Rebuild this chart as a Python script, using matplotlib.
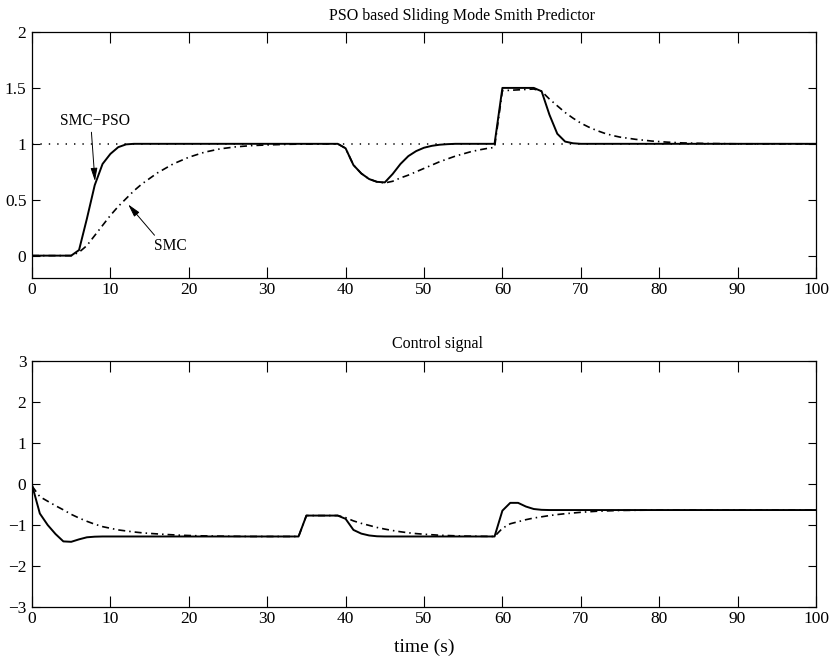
import matplotlib
matplotlib.use("Agg")
import matplotlib.pyplot as plt
from matplotlib.ticker import FuncFormatter

plt.rcParams['font.family'] = ['Liberation Serif', 'DejaVu Serif']
plt.rcParams['axes.unicode_minus'] = True

# ---- process output (upper panel) ----
t_ref = [0, 100]
y_ref = [1.0, 1.0]

t_pso = [0, 5, 6, 7, 8, 9, 10, 11, 12, 13,
         39, 40, 41, 42, 43, 44, 45, 46, 47, 48, 49, 50, 51, 52, 53, 54,
         59, 60, 64, 65, 66, 67, 68, 69, 70, 100]
y_pso = [0, 0, 0.05, 0.33, 0.63, 0.82, 0.91, 0.97, 0.995, 1.0,
         1.0, 0.96, 0.81, 0.735, 0.685, 0.66, 0.655, 0.73, 0.82, 0.89, 0.935, 0.965, 0.982, 0.992, 0.997, 1.0,
         1.0, 1.5, 1.5, 1.47, 1.26, 1.09, 1.02, 1.005, 1.0, 1.0]

t_smc = [0, 5, 6, 7, 8, 9, 10, 11, 12, 13, 14, 15, 16, 17, 18, 19, 20, 22, 24, 26, 28, 30, 33, 36, 39,
         40, 41, 42, 43, 44, 45, 46, 47, 48, 49, 50, 51, 52, 53, 54, 55, 56, 57, 58, 59,
         60, 64, 65, 66, 67, 68, 69, 70, 71, 72, 73, 74, 75, 77, 79, 81, 83, 86, 90, 100]
y_smc = [0, 0, 0.03, 0.09, 0.18, 0.27, 0.36, 0.44, 0.51, 0.58, 0.64, 0.69, 0.74, 0.78, 0.82, 0.85, 0.88,
         0.925, 0.955, 0.973, 0.984, 0.99, 0.996, 0.999, 1.0,
         0.96, 0.81, 0.735, 0.685, 0.66, 0.65, 0.665, 0.695, 0.72, 0.75, 0.78, 0.81, 0.84, 0.865, 0.89,
         0.91, 0.93, 0.945, 0.958, 0.968,
         1.475, 1.49, 1.47, 1.40, 1.34, 1.28, 1.23, 1.185, 1.15, 1.12, 1.095, 1.075, 1.06, 1.04, 1.025,
         1.015, 1.008, 1.003, 1.0, 1.0]

# ---- control signal (lower panel) ----
t_u_pso = [0, 1, 2, 3, 4, 5, 6, 7, 8, 9, 10,
           34, 35, 39, 40, 41, 42, 43, 44, 45,
           59, 60, 61, 62, 63, 64, 65, 66, 100]
u_pso = [-0.02, -0.72, -1.0, -1.22, -1.40, -1.41, -1.35, -1.30, -1.285, -1.28, -1.28,
         -1.28, -0.77, -0.77, -0.85, -1.12, -1.21, -1.255, -1.275, -1.28,
         -1.28, -0.65, -0.46, -0.46, -0.55, -0.61, -0.63, -0.635, -0.635]

t_u_smc = [0, 1, 2, 3, 4, 5, 6, 7, 8, 9, 10, 11, 12, 13, 14, 15, 17, 19, 21, 24, 28,
           34, 35, 39, 40, 41, 42, 43, 44, 45, 46, 47, 48, 49, 50, 52, 55,
           59, 60, 61, 62, 63, 64, 65, 66, 67, 68, 70, 72, 75, 80, 100]
u_smc = [-0.05, -0.31, -0.42, -0.53, -0.63, -0.74, -0.83, -0.91, -0.98, -1.04, -1.08, -1.12, -1.145,
         -1.17, -1.19, -1.205, -1.23, -1.25, -1.262, -1.272, -1.28,
         -1.28, -0.77, -0.77, -0.82, -0.90, -0.96, -1.01, -1.06, -1.10, -1.135, -1.165, -1.19, -1.21,
         -1.225, -1.25, -1.27,
         -1.28, -1.08, -0.97, -0.92, -0.87, -0.83, -0.80, -0.77, -0.745, -0.725, -0.69, -0.665, -0.645,
         -0.635, -0.635]

top_yticks = [0, 0.5, 1, 1.5, 2]
bot_yticks = [-3, -2, -1, 0, 1, 2, 3]
xticks = [0, 10, 20, 30, 40, 50, 60, 70, 80, 90, 100]

W, H = 836, 661
fig = plt.figure(figsize=(W / 100, H / 100), dpi=100)

def px_axes(left, top, right, bottom):
    return fig.add_axes([left / W, 1 - bottom / H, (right - left) / W, (bottom - top) / H])

ax1 = px_axes(32, 32, 816, 278)
ax2 = px_axes(32, 361, 816, 607)

dash_dot = (0, (4.2, 2.4, 0.9, 2.4))
dotted = (0, (0.9, 4.6))

fmt = FuncFormatter(lambda v, p: ('%g' % v).replace('-', '\u2212'))

for ax in (ax1, ax2):
    ax.set_xlim(0, 100)
    ax.set_xticks(xticks)
    ax.xaxis.set_major_formatter(fmt)
    ax.yaxis.set_major_formatter(fmt)
    ax.tick_params(axis='x', direction='in', top=True, bottom=True, length=7.8, width=0.8,
                   labelsize=12.5, pad=3)
    ax.tick_params(axis='y', direction='in', left=True, right=True, length=5.8, width=0.8,
                   labelsize=12.5, pad=4)
    for s in ax.spines.values():
        s.set_linewidth(0.9)

ax1.plot(t_ref, y_ref, color='k', lw=1.1, linestyle=dotted)
ax1.plot(t_pso, y_pso, color='k', lw=1.4)
ax1.plot(t_smc, y_smc, color='k', lw=1.2, linestyle=dash_dot)
ax1.set_ylim(-0.2, 2)
ax1.set_yticks(top_yticks)
ax1.set_title('PSO based Sliding Mode Smith Predictor', fontsize=11.5, x=0.548, pad=9)

arrow = dict(arrowstyle='-|>,head_width=0.18,head_length=0.7', color='k', lw=0.7,
             shrinkA=0, shrinkB=0)
ax1.annotate('SMC\u2212PSO', xy=(8.03, 0.666), xytext=(8.0, 1.2), fontsize=11.2,
             ha='center', va='center', arrowprops=dict(arrow, relpos=(0.45, 0.0)))
ax1.annotate('SMC', xy=(12.27, 0.458), xytext=(17.6, 0.086), fontsize=11.2,
             ha='center', va='center', arrowprops=dict(arrow, relpos=(0.1, 1.0)))

ax2.plot(t_u_pso, u_pso, color='k', lw=1.4)
ax2.plot(t_u_smc, u_smc, color='k', lw=1.2, linestyle=dash_dot)
ax2.set_ylim(-3, 3)
ax2.set_yticks(bot_yticks)
ax2.set_title('Control signal', fontsize=11.5, x=0.517, pad=9)
ax2.set_xlabel('time (s)', fontsize=14, labelpad=8)

fig.savefig('out.png', dpi=100)
